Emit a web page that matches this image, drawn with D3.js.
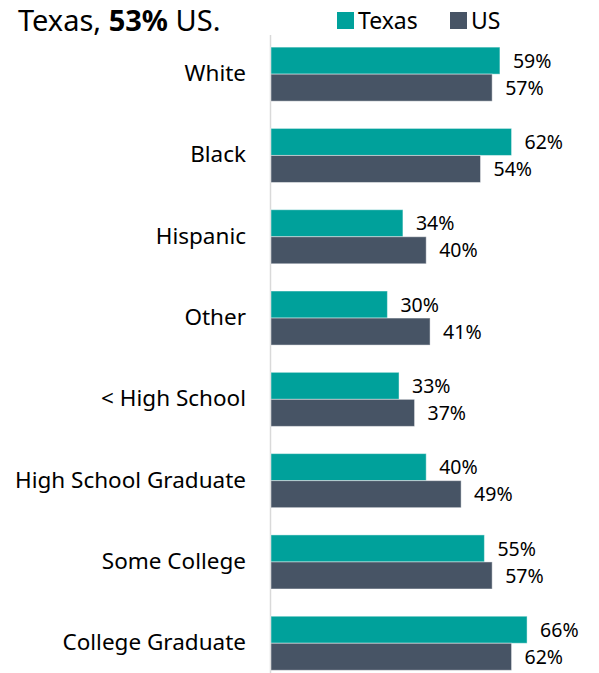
<!DOCTYPE html>
<html>
<head>
<meta charset="utf-8">
<script src="https://cdn.jsdelivr.net/npm/d3@7"></script>
<style>
  body { margin: 0; background: #fff; }
  svg { display: block; font-family: 'Noto Sans', sans-serif; }
</style>
</head>
<body>
<svg id="chart" width="599" height="673"></svg>
<script>
const categories = ['White', 'Black', 'Hispanic', 'Other', '< High School', 'High School Graduate', 'Some College', 'College Graduate'];
const texas = [59, 62, 34, 30, 33, 40, 55, 66];
const us = [57, 54, 40, 41, 37, 49, 57, 62];
const seriesNames = ['Texas', 'US'];
const colors = ['#00a19b', '#475465'];

const svg = d3.select('#chart');
const conf = { left: 271, top: 33.5, barH: 27 };

const x = d3.scaleLinear().domain([0, 100]).range([conf.left, conf.left + 388]);
const y = d3.scaleBand().domain(categories).range([conf.top, conf.top + 81.3 * categories.length]).paddingInner(0.335).paddingOuter(0.1675);

// title fragment (the rest of the sentence is above the crop)
const title = svg.append('text').attr('x', 18).attr('y', 31).attr('font-size', 29).attr('fill', '#000');
title.append('tspan').text('Texas, ');
title.append('tspan').attr('font-weight', 'bold').text('53%');
title.append('tspan').text(' US.');

// legend
const legend = svg.append('g').classed('legend', true);
const lx = [337, 450];
seriesNames.forEach(function (name, i) {
  legend.append('rect').attr('x', lx[i]).attr('y', 12).attr('width', 17).attr('height', 17).attr('fill', colors[i]);
  legend.append('text').attr('x', lx[i] + 21).attr('y', 29).attr('font-size', 23).text(name);
});

// axis line
svg.append('line')
  .attr('x1', conf.left - 0.5).attr('x2', conf.left - 0.5)
  .attr('y1', 35).attr('y2', 673)
  .attr('stroke', '#d9d9d9').attr('stroke-width', 1.5);

const data = categories.map(function (c, i) { return { cat: c, vals: [texas[i], us[i]] }; });

const groups = svg.selectAll('.grp')
  .data(data)
  .enter()
  .append('g')
  .classed('grp', true)
  .attr('transform', function (d) { return 'translate(0,' + y(d.cat) + ')'; });

groups.selectAll('rect')
  .data(function (d) { return d.vals; })
  .enter()
  .append('rect')
  .attr('x', x(0))
  .attr('y', function (d, i) { return i * y.bandwidth() / 2; })
  .attr('width', function (d) { return x(d) - x(0); })
  .attr('height', y.bandwidth() / 2)
  .attr('fill', function (d, i) { return colors[i]; })
  .attr('stroke', 'rgba(255,255,255,0.45)')
  .attr('stroke-width', 1);

groups.selectAll('.val')
  .data(function (d) { return d.vals; })
  .enter()
  .append('text')
  .classed('val', true)
  .attr('x', function (d) { return x(d) + 13; })
  .attr('y', function (d, i) { return (i + 0.5) * y.bandwidth() / 2 + 2; })
  .attr('dominant-baseline', 'middle')
  .attr('font-size', 19.5)
  .attr('fill', '#000')
  .text(function (d) { return d + '%'; });

// category labels
svg.selectAll('.cat')
  .data(categories)
  .enter()
  .append('text')
  .classed('cat', true)
  .attr('x', 246)
  .attr('y', function (d) { return y(d) + y.bandwidth() / 2 + 1; })
  .attr('text-anchor', 'end')
  .attr('dominant-baseline', 'middle')
  .attr('font-size', 22.5)
  .attr('fill', '#000')
  .text(function (d) { return d; });
</script>
</body>
</html>
